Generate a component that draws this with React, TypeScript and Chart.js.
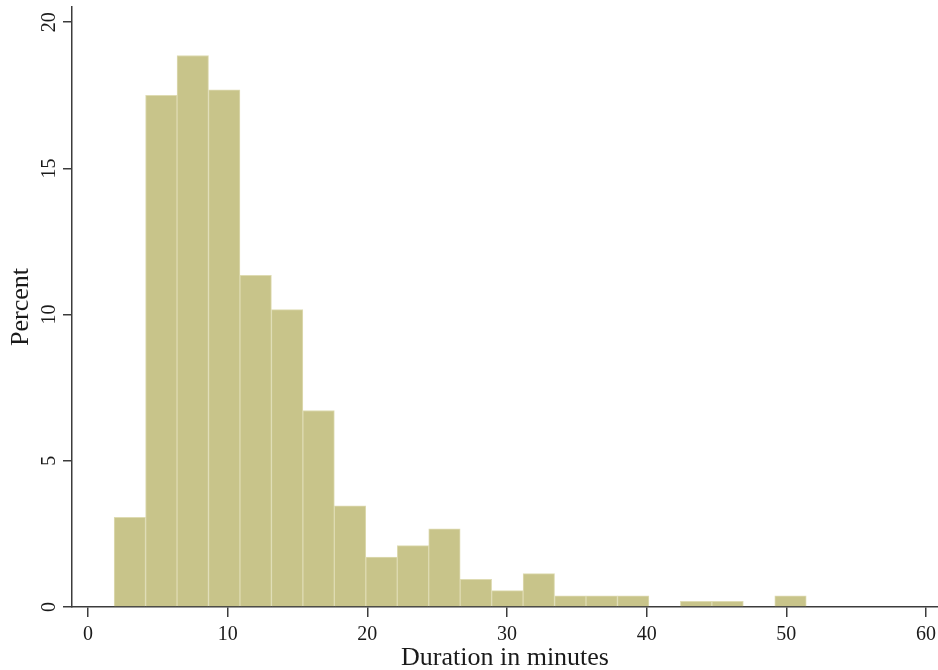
import React, { useEffect, useRef } from 'react';
import { Chart, registerables } from 'chart.js';

Chart.register(...registerables);

// Histogram bins: first bin edge and bin width (minutes)
const binStart = 1.87;
const binWidth = 2.2525;

// Percent of observations in each bin
const percents = [
  3.07, 17.5, 18.86, 17.69, 11.34, 10.17, 6.72, 3.46, 1.71, 2.1, 2.67,
  0.95, 0.56, 1.14, 0.38, 0.38, 0.38, 0, 0.19, 0.19, 0, 0.38,
];

const xTicks = [0, 10, 20, 30, 40, 50, 60];
const yTicks = [0, 5, 10, 15, 20];

const xLabel = 'Duration in minutes';
const yLabel = 'Percent';

const FONT = "'Liberation Serif', 'Times New Roman', serif";
const AXIS = '#3c3c3c';
const TEXT = '#1a1a1a';

export default function App() {
  const canvasRef = useRef<HTMLCanvasElement | null>(null);

  useEffect(() => {
    const canvas = canvasRef.current;
    if (!canvas) return;

    const points = percents.map((p, i) => ({
      x: binStart + binWidth * (i + 0.5),
      y: p,
    }));

    const chart = new Chart(canvas, {
      type: 'bar',
      data: {
        datasets: [
          {
            data: points as any,
            backgroundColor: '#c8c48a',
            borderColor: '#dedbb2',
            borderWidth: 1,
            borderSkipped: 'start',
            categoryPercentage: 1,
            barPercentage: 1,
          },
        ],
      },
      options: {
        animation: false,
        responsive: false,
        devicePixelRatio: 1,
        layout: { padding: { top: 7, right: 0, bottom: 0, left: 0 } },
        plugins: {
          legend: { display: false },
          tooltip: { enabled: false },
        },
        scales: {
          x: {
            type: 'linear',
            min: -1.146,
            max: 60.86,
            offset: false,
            afterBuildTicks: (s: any) => {
              s.ticks = xTicks.map((v) => ({ value: v }));
            },
            afterFit: (s: any) => {
              s.height = 63;
              s.paddingLeft = 0;
              s.paddingRight = 0;
            },
            grid: {
              display: true,
              drawOnChartArea: false,
              drawTicks: true,
              tickLength: 10,
              color: AXIS,
              lineWidth: 1.5,
              offset: false,
            },
            border: { display: true, color: AXIS, width: 1.5 },
            ticks: {
              font: { family: FONT, size: 20 },
              color: TEXT,
              padding: 6,
              minRotation: 0,
              maxRotation: 0,
              autoSkip: false,
            },
            title: {
              display: true,
              text: xLabel,
              color: TEXT,
              font: { family: FONT, size: 26, lineHeight: 0.92 },
              padding: 0,
            },
          },
          y: {
            type: 'linear',
            min: 0,
            max: 20.52,
            afterBuildTicks: (s: any) => {
              s.ticks = yTicks.map((v) => ({ value: v }));
            },
            afterFit: (s: any) => {
              s.width = 72;
              s.paddingTop = 0;
              s.paddingBottom = 0;
            },
            grid: {
              display: true,
              drawOnChartArea: false,
              drawTicks: true,
              tickLength: 9,
              color: AXIS,
              lineWidth: 1.5,
            },
            border: { display: true, color: AXIS, width: 1.5 },
            ticks: {
              font: { family: FONT, size: 20 },
              color: TEXT,
              padding: 3,
              minRotation: 90,
              maxRotation: 90,
              crossAlign: 'center',
              autoSkip: false,
            },
            title: {
              display: true,
              text: yLabel,
              color: TEXT,
              font: { family: FONT, size: 26, lineHeight: 1.2 },
              padding: { top: 6, bottom: 0 },
            },
          },
        },
      },
    });

    return () => {
      chart.destroy();
    };
  }, []);

  return (
    <div
      style={{
        position: 'fixed',
        left: 0,
        top: 0,
        width: 938,
        height: 670,
        background: '#ffffff',
      }}
    >
      <canvas
        ref={canvasRef}
        width={938}
        height={670}
        style={{ display: 'block', width: 938, height: 670 }}
      />
    </div>
  );
}
